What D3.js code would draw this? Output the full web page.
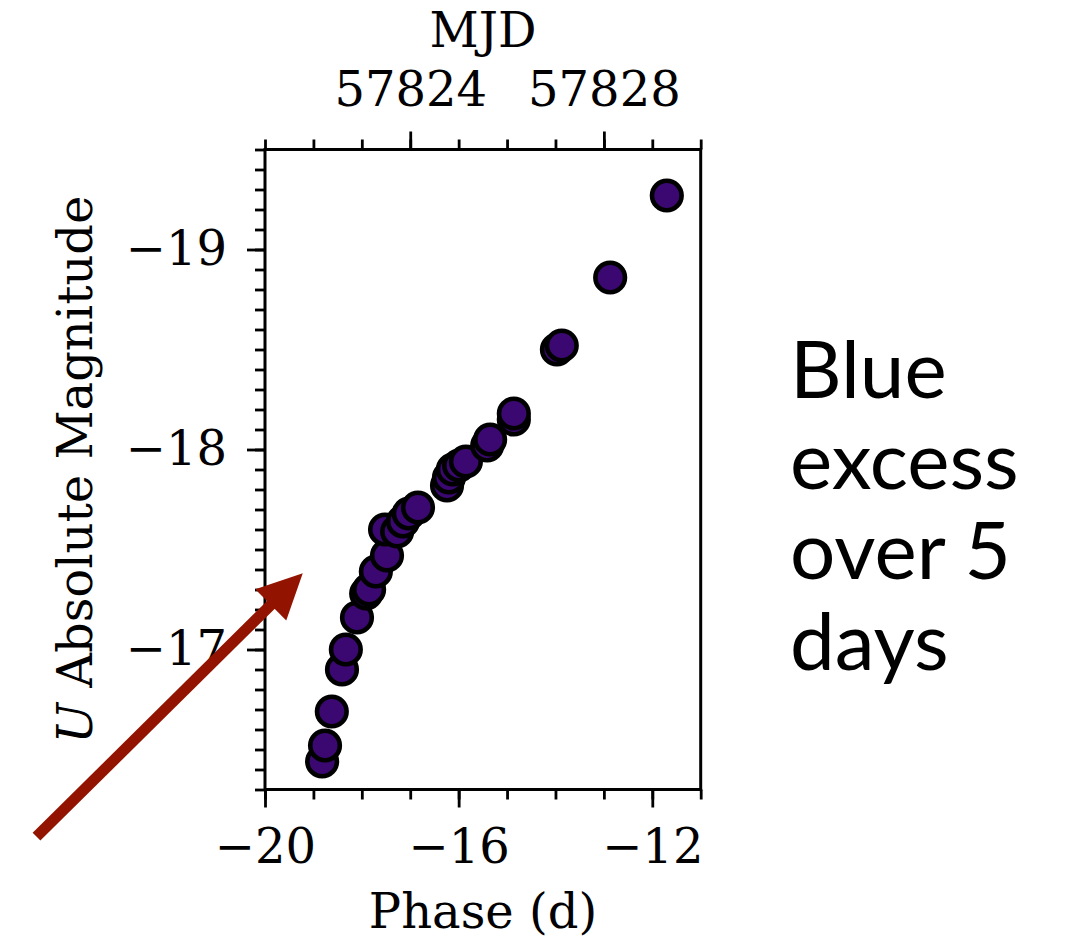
<!DOCTYPE html>
<html>
<head>
<meta charset="utf-8">
<script src="https://cdn.jsdelivr.net/npm/d3@7"></script>
<style>
  html, body { margin: 0; padding: 0; background: #fff; }
  svg { display: block; }
</style>
</head>
<body>
<svg id="chart" width="1075" height="951"></svg>
<script>
// ---- data ----
const phase = [-18.82, -18.76, -18.62, -18.41, -18.33, -18.10, -17.91, -17.85, -17.71, -17.48,
               -17.52, -17.27, -17.15, -17.03, -16.84, -16.24, -16.20, -16.12, -15.99, -15.85,
               -15.41, -15.35, -14.86, -14.86, -13.97, -13.87, -12.87, -11.70];
const absMag = [-16.44, -16.52, -16.69, -16.90, -17.00, -17.16, -17.28, -17.30, -17.39, -17.47,
                -17.60, -17.59, -17.64, -17.68, -17.71, -17.82, -17.86, -17.90, -17.92, -17.94,
                -18.02, -18.05, -18.15, -18.18, -18.50, -18.52, -18.86, -19.27];
const xTickLabels = [-20, -16, -12];
const xMinorTicks = [-20, -19, -18, -17, -16, -15, -14, -13, -12, -11];
const yTickLabels = [-19, -18, -17];
const mjdTickLabels = [57824, 57828];
const mjdMinorTicks = [57821, 57822, 57823, 57824, 57825, 57826, 57827, 57828, 57829, 57830];
const mjdOffset = 57841;
const arrowPhase = [-24.72, -19.22];   // tail, tip
const arrowMag = [-16.064, -17.381];
const noteLines = ["Blue", "excess", "over 5", "days"];

// ---- layout ----
const svg = d3.select("#chart");
const L = 265, R = 700.7, T = 149.5, B = 789.5;
const serif = "'DejaVu Serif', serif";
const fs = 48;

const x = d3.scaleLinear().domain([-20, -11]).range([L, R]);
const xTop = d3.scaleLinear().domain([-20 + mjdOffset, -11 + mjdOffset]).range([L, R]);
const y = d3.scaleLinear().domain([-19.5, -16.3]).range([T, B]);
const yMinor = d3.range(-19.5, -16.25, 0.1).map(v => Math.round(v * 10) / 10);

function styleAxis(g) {
  g.select(".domain").remove();
  g.selectAll(".tick line").attr("stroke", "#000").attr("stroke-width", 2.8);
  g.selectAll(".tick text").attr("font-family", serif).attr("font-size", fs).attr("fill", "#000");
}

// bottom axis
svg.append("g").attr("transform", `translate(0,${B})`)
  .call(d3.axisBottom(x).tickValues(xMinorTicks).tickSize(10).tickFormat(""))
  .call(styleAxis);
svg.append("g").attr("transform", `translate(0,${B})`)
  .call(d3.axisBottom(x).tickValues(xTickLabels).tickSize(18).tickPadding(21).tickFormat(d3.format("d")))
  .call(styleAxis);

// top axis (MJD)
svg.append("g").attr("transform", `translate(0,${T})`)
  .call(d3.axisTop(xTop).tickValues(mjdMinorTicks).tickSize(10).tickFormat(""))
  .call(styleAxis);
svg.append("g").attr("transform", `translate(0,${T})`)
  .call(d3.axisTop(xTop).tickValues(mjdTickLabels).tickSize(18).tickPadding(26).tickFormat(d3.format("d")))
  .call(styleAxis);

// left axis
svg.append("g").attr("transform", `translate(${L},0)`)
  .call(d3.axisLeft(y).tickValues(yMinor).tickSize(10).tickFormat(""))
  .call(styleAxis);
svg.append("g").attr("transform", `translate(${L},0)`)
  .call(d3.axisLeft(y).tickValues(yTickLabels).tickSize(18).tickPadding(20).tickFormat(d3.format("d")))
  .call(styleAxis);

// frame
svg.append("rect").attr("x", L).attr("y", T).attr("width", R - L).attr("height", B - T)
  .attr("fill", "none").attr("stroke", "#000").attr("stroke-width", 3);

// points
svg.append("g").selectAll("circle")
  .data(phase.map((p, i) => ({ p, m: absMag[i] })))
  .join("circle")
  .attr("cx", d => x(d.p)).attr("cy", d => y(d.m)).attr("r", 14.8)
  .attr("fill", "#3b0770").attr("stroke", "#000").attr("stroke-width", 4.6);

// axis titles
svg.append("text").attr("x", 483).attr("y", 47).attr("text-anchor", "middle")
  .attr("font-family", serif).attr("font-size", fs).attr("fill", "#000").text("MJD");
svg.append("text").attr("x", 483).attr("y", 928).attr("text-anchor", "middle")
  .attr("font-family", serif).attr("font-size", fs).attr("fill", "#000").text("Phase (d)");
const yl = svg.append("text").attr("transform", `translate(92,${(T + B) / 2}) rotate(-90)`)
  .attr("text-anchor", "middle").attr("font-family", serif).attr("font-size", fs).attr("fill", "#000");
yl.append("tspan").attr("font-style", "italic").text("U");
yl.append("tspan").text(" Absolute Magnitude");

// arrow annotation
const ax0 = x(arrowPhase[0]), ay0 = y(arrowMag[0]), ax1 = x(arrowPhase[1]), ay1 = y(arrowMag[1]);
const ang = Math.atan2(ay1 - ay0, ax1 - ax0);
const headLen = 45, headHalf = 22;
const bx = ax1 - headLen * Math.cos(ang), by = ay1 - headLen * Math.sin(ang);
const arrowColor = "#921400";
svg.append("line").attr("x1", ax0).attr("y1", ay0).attr("x2", bx + 2 * Math.cos(ang)).attr("y2", by + 2 * Math.sin(ang))
  .attr("stroke", arrowColor).attr("stroke-width", 11);
svg.append("path")
  .attr("d", `M${ax1},${ay1} L${bx - headHalf * Math.sin(ang)},${by + headHalf * Math.cos(ang)} L${bx + headHalf * Math.sin(ang)},${by - headHalf * Math.cos(ang)} Z`)
  .attr("fill", arrowColor);

// right-hand note
svg.append("g").selectAll("text").data(noteLines).join("text")
  .attr("x", 790).attr("y", (d, i) => 398 + i * 90.5)
  .attr("font-family", "Lato, 'Open Sans', sans-serif").attr("font-size", 80).attr("fill", "#000")
  .text(d => d);
</script>
</body>
</html>
